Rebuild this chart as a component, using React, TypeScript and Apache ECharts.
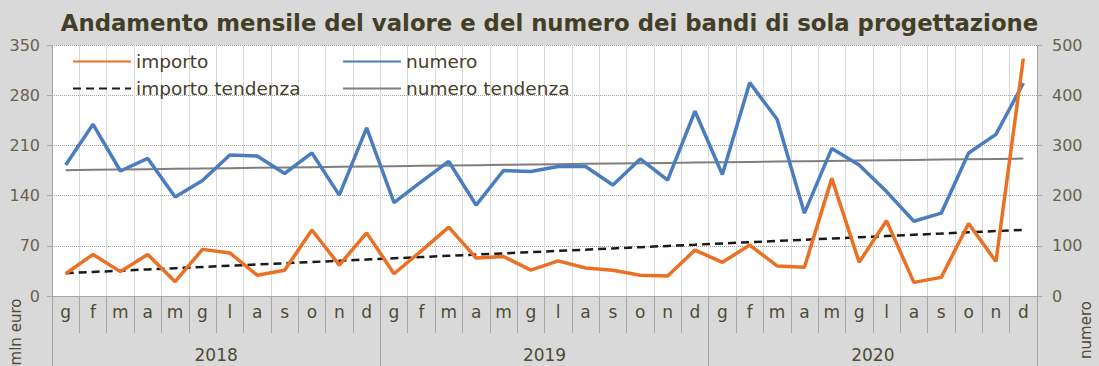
import React, { useEffect, useRef } from "react";
import * as echarts from "echarts";

const months: string[] = [
  "g", "f", "m", "a", "m", "g", "l", "a", "s", "o", "n", "d",
  "g", "f", "m", "a", "m", "g", "l", "a", "s", "o", "n", "d",
  "g", "f", "m", "a", "m", "g", "l", "a", "s", "o", "n", "d",
];
const years: string[] = ["2018", "2019", "2020"];

const importo: number[] = [
  31, 58, 34, 58, 20, 65, 60, 29, 36, 92, 43, 88,
  31, 63, 96, 53, 55, 36, 49, 39, 36, 29, 28, 64,
  47, 71, 42, 40, 164, 47, 105, 19, 26, 101, 48, 331,
];
const numero: number[] = [
  261, 342, 249, 274, 197, 230, 281, 279, 244, 285, 201, 335,
  186, 228, 268, 181, 250, 248, 258, 258, 221, 273, 231, 368,
  242, 425, 352, 165, 294, 261, 208, 149, 165, 285, 322, 424,
];

const leftTicks = { min: 0, max: 350, interval: 70 };
const rightTicks = { min: 0, max: 500, interval: 100 };

// least-squares linear trend (as Excel's "tendenza" line)
function trend(vals: number[]): number[] {
  const n = vals.length;
  const mx = (n - 1) / 2;
  const my = vals.reduce((a, b) => a + b, 0) / n;
  let sxy = 0;
  let sxx = 0;
  vals.forEach((v, i) => {
    sxy += (i - mx) * (v - my);
    sxx += (i - mx) * (i - mx);
  });
  const b = sxy / sxx;
  return vals.map((_, i) => +(my + b * (i - mx)).toFixed(2));
}

const FONT = "DejaVu Sans, Verdana, sans-serif";
const TEXT = "#464129";
const CAT_TEXT = "#4f4b35";
const AXIS_TEXT = "#67634c";
const LINE_GRAY = "#a6a6a6";
const ORANGE = "#ec7023";
const BLUE = "#4a7dbf";

export default function App() {
  const ref = useRef<HTMLDivElement>(null);
  useEffect(() => {
    if (!ref.current) return;
    const chart = echarts.init(ref.current, undefined, { renderer: "svg" });
    const legendCommon = {
      orient: "vertical",
      top: 47,
      itemWidth: 58,
      itemHeight: 14,
      itemGap: 8,
      itemStyle: { opacity: 0 },
      textStyle: { fontSize: 18.5, color: TEXT, fontFamily: FONT },
    };
    chart.setOption({
      animation: false,
      backgroundColor: "#d9d9d9",
      textStyle: { fontFamily: FONT },
      title: {
        text: "Andamento mensile del valore e del numero dei bandi di sola progettazione",
        left: "center",
        top: 6,
        textStyle: { fontSize: 22.8, fontWeight: "bold", color: "#433e26", fontFamily: FONT },
      },
      grid: {
        left: 52,
        right: 62,
        top: 45,
        bottom: 70,
        show: true,
        backgroundColor: "#ffffff",
        borderWidth: 0,
        containLabel: false,
      },
      legend: [
        { ...legendCommon, data: ["importo", "importo tendenza"], left: 67 },
        { ...legendCommon, data: ["numero", "numero tendenza"], left: 337 },
      ],
      xAxis: [
        {
          type: "category",
          data: months,
          boundaryGap: true,
          axisLine: { show: true, lineStyle: { color: LINE_GRAY } },
          axisTick: { show: true, interval: 0, length: 37, lineStyle: { color: LINE_GRAY } },
          axisLabel: { interval: 0, fontSize: 17, color: CAT_TEXT, margin: 7 },
          splitLine: { show: true, interval: 0, lineStyle: { color: "#d9d9d9", width: 1 } },
        },
        {
          type: "category",
          data: years,
          position: "bottom",
          boundaryGap: true,
          axisLine: { show: false },
          axisTick: { show: true, interval: 0, length: 70, lineStyle: { color: LINE_GRAY } },
          axisLabel: { interval: 0, fontSize: 17, color: CAT_TEXT, margin: 50 },
          splitLine: { show: false },
        },
      ],
      yAxis: [
        {
          type: "value",
          ...leftTicks,
          position: "left",
          axisLine: { show: true, lineStyle: { color: LINE_GRAY } },
          axisTick: { show: true, length: 5, lineStyle: { color: LINE_GRAY } },
          axisLabel: { fontSize: 16, color: AXIS_TEXT, margin: 12 },
          splitLine: { show: true, lineStyle: { color: "#a0a0a0", type: "dotted", width: 1 } },
        },
        {
          type: "value",
          ...rightTicks,
          position: "right",
          axisLine: { show: true, lineStyle: { color: LINE_GRAY } },
          axisTick: { show: true, length: 5, lineStyle: { color: LINE_GRAY } },
          axisLabel: { fontSize: 16, color: AXIS_TEXT, margin: 15 },
          splitLine: { show: false },
        },
      ],
      series: [
        {
          name: "importo tendenza",
          type: "line",
          yAxisIndex: 0,
          data: trend(importo),
          symbol: "none",
          lineStyle: { color: "#1a1a1a", width: 2.5, type: [8, 5] },
          itemStyle: { color: "#1a1a1a" },
          z: 3,
        },
        {
          name: "numero tendenza",
          type: "line",
          yAxisIndex: 1,
          data: trend(numero),
          symbol: "none",
          lineStyle: { color: "#7f7f7f", width: 2 },
          itemStyle: { color: "#7f7f7f" },
          z: 3,
        },
        {
          name: "numero",
          type: "line",
          yAxisIndex: 1,
          data: numero,
          symbol: "none",
          lineStyle: { color: BLUE, width: 3.5 },
          itemStyle: { color: BLUE },
          z: 4,
        },
        {
          name: "importo",
          type: "line",
          yAxisIndex: 0,
          data: importo,
          symbol: "none",
          lineStyle: { color: ORANGE, width: 3.5 },
          itemStyle: { color: ORANGE },
          z: 5,
        },
      ],
      graphic: [
        {
          type: "text",
          x: 16,
          y: 332,
          rotation: Math.PI / 2,
          style: {
            text: "mln euro",
            fontSize: 15,
            fill: CAT_TEXT,
            textAlign: "center",
            textVerticalAlign: "middle",
            fontFamily: FONT,
          },
        },
        {
          type: "text",
          x: 1086,
          y: 330,
          rotation: Math.PI / 2,
          style: {
            text: "numero",
            fontSize: 15,
            fill: CAT_TEXT,
            textAlign: "center",
            textVerticalAlign: "middle",
            fontFamily: FONT,
          },
        },
      ],
    });
    return () => chart.dispose();
  }, []);
  return (
    <div
      ref={ref}
      style={{ position: "fixed", left: 0, top: 0, width: 1099, height: 366 }}
    />
  );
}
